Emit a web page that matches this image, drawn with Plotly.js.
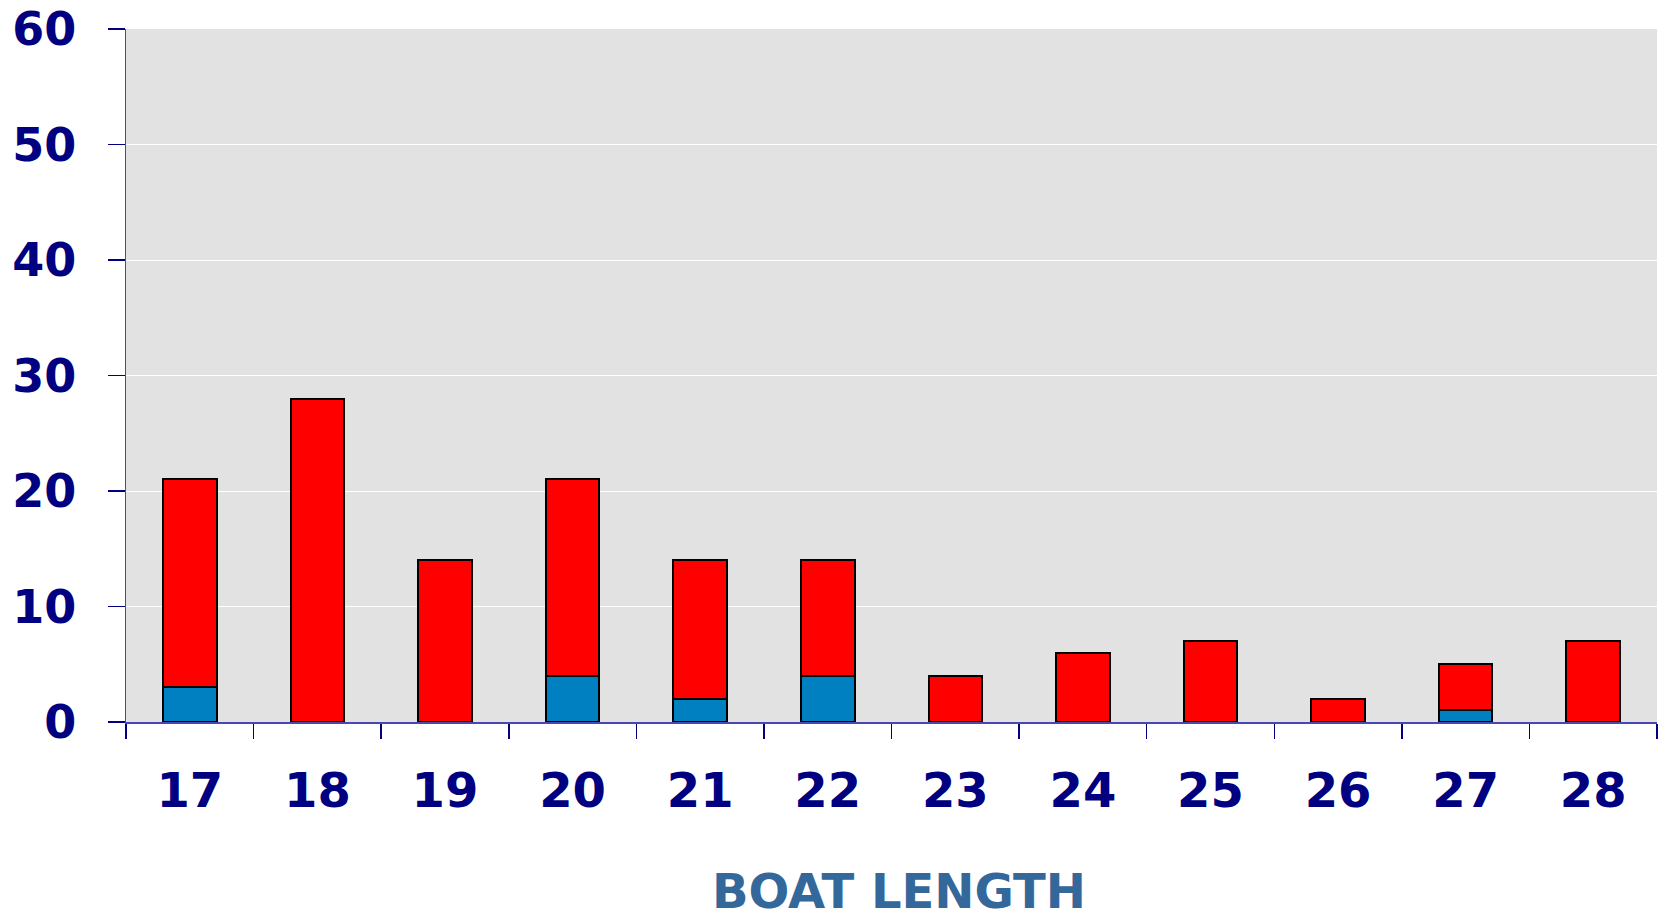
<!DOCTYPE html>
<html>
<head>
<meta charset="utf-8">
<script src="https://cdn.plot.ly/plotly-3.0.1.min.js"></script>
<style>html,body{margin:0;padding:0;background:#fff;}#chart{width:1667px;height:922px;}</style>
</head>
<body>
<div id="chart"></div>
<script>
const lengths = ['17','18','19','20','21','22','23','24','25','26','27','28'];
const blueValues = [3, 0, 0, 4, 2, 4, 0, 0, 0, 0, 1, 0];
const redValues = [18, 28, 14, 17, 12, 10, 4, 6, 7, 2, 4, 7];
const yTicks = [0, 10, 20, 30, 40, 50, 60];
const xTitle = 'BOAT LENGTH';

const fontFam = 'DejaVu Sans, Verdana, sans-serif';
const traces = [
  {type:'bar', x:lengths, y:blueValues, name:'blue',
   marker:{color:'#0080c0', line:{color:'#000000', width:2}}},
  {type:'bar', x:lengths, y:redValues, name:'red',
   marker:{color:'#ff0000', line:{color:'#000000', width:2}}}
];
const layout = {
  width:1667, height:922,
  barmode:'stack', bargap:0.58,
  showlegend:false,
  paper_bgcolor:'#ffffff', plot_bgcolor:'#e2e2e2',
  margin:{l:126, r:10, t:29, b:200},
  font:{family:fontFam, color:'#000080'},
  xaxis:{
    type:'category', tickson:'boundaries', ticks:'outside', ticklen:15, tickwidth:1.5,
    tickcolor:'#000080', showline:true, linecolor:'#4848b0', linewidth:1.5,
    showgrid:false, zeroline:false,
    tickfont:{family:fontFam, size:48, color:'#000080', weight:'bold'},
    ticklabelstandoff:26
  },
  yaxis:{
    range:[0,60], tickmode:'array', tickvals:yTicks, ticktext:yTicks.map(String),
    ticks:'outside', ticklen:17, tickwidth:1.5, tickcolor:'#000080',
    showline:true, linecolor:'#4848b0', linewidth:1.5,
    showgrid:true, gridcolor:'#ffffff', gridwidth:1, zeroline:false,
    tickfont:{family:fontFam, size:46, color:'#000080', weight:'bold'},
    ticklabelstandoff:22, ticklabeloverflow:'allow'
  },
  annotations:[{
    text:xTitle, xref:'paper', yref:'paper', x:0.505, y:-0.287,
    xanchor:'center', yanchor:'bottom', showarrow:false,
    font:{family:fontFam, size:48, color:'#34679a', weight:'bold'}
  }]
};
Plotly.newPlot('chart', traces, layout, {displayModeBar:false, staticPlot:true});
</script>
</body>
</html>
